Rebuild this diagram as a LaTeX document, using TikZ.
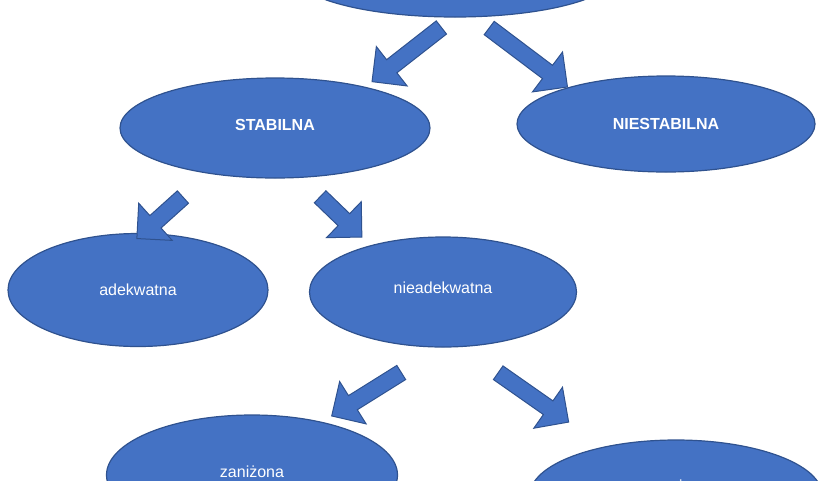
\documentclass[tikz,border=0pt]{standalone}
\usepackage{fontspec}
\setmainfont{Liberation Sans}
\usetikzlibrary{shapes.arrows,shapes.geometric}
\definecolor{myfill}{HTML}{4472C4}
\definecolor{myedge}{HTML}{2F528F}

\begin{document}
\begin{tikzpicture}[x=1pt,y=-1pt,
  blob/.style={ellipse, draw=myedge, line width=1.2pt, fill=myfill, text=white, font=\fontsize{16}{18}\selectfont},
  bigarrow/.style={single arrow, draw=myedge, line width=1pt, fill=myfill, minimum width=50pt, single arrow head extend=11pt, inner sep=5pt}]
\useasboundingbox (0,0) rectangle (840,480);
\node[blob, minimum width=320pt, minimum height=84pt] (top) at (455,-25) {};
\node[blob, minimum width=310pt, minimum height=100pt, font=\fontsize{16}{18}\selectfont\bfseries] (stab) at (275,128) {\raisebox{6pt}{STABILNA}};
\node[blob, minimum width=298pt, minimum height=96pt, font=\fontsize{16}{18}\selectfont\bfseries] (niestab) at (666,124) {NIESTABILNA};
\node[blob, minimum width=260pt, minimum height=113pt] (adek) at (138,290) {adekwatna};
\node[blob, minimum width=267pt, minimum height=110pt] (nieadek) at (443,292) {\raisebox{8pt}{nieadekwatna}};
\node[blob, minimum width=291pt, minimum height=120pt] (zaniz) at (252,475) {\raisebox{6pt}{zaniżona}};
\node[blob, minimum width=292pt, minimum height=110pt] (zawyz) at (676,495) {\raisebox{18pt}{zawyżona}};
% strzałki
\node[bigarrow, minimum height=88pt, rotate=-142] (a1) at (410,52) {};
\node[bigarrow, minimum height=98pt, rotate=-37] (a2) at (525,55) {};
\node[bigarrow, minimum height=62pt, rotate=-138] (a3) at (163,215) {};
\node[bigarrow, minimum height=58pt, rotate=-44] (a4) at (338,214) {};
\node[bigarrow, minimum height=82pt, rotate=-148] (a5) at (370,392) {};
\node[bigarrow, minimum height=86pt, rotate=-35] (a6) at (530,395) {};
\end{tikzpicture}
\end{document}
